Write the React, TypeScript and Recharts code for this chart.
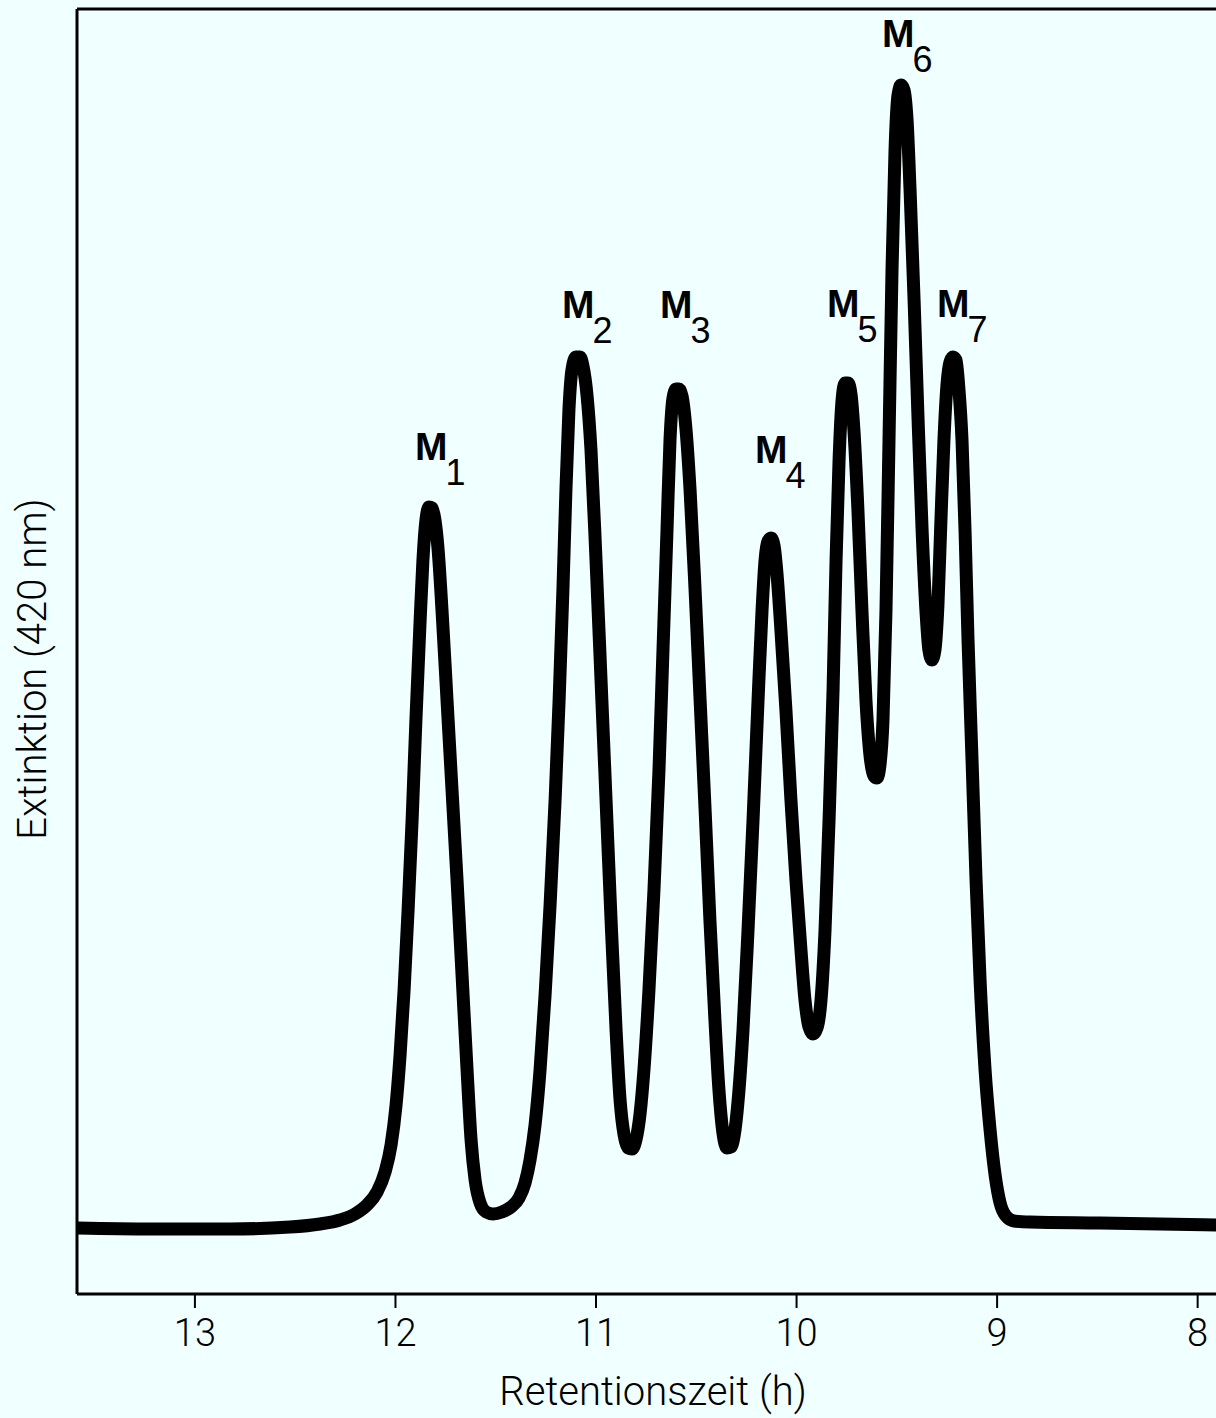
import React from 'react';
import { ComposedChart, Line, Scatter, XAxis, YAxis, ReferenceLine } from 'recharts';

// Retention time (h), read along the trace from left (13.6 h) to right (7.9 h)
const retentionTime = [
  13.588, 13.224, 12.825, 12.526, 12.376, 12.277, 12.202, 12.142, 12.092, 12.052,
  12.022, 11.997, 11.977, 11.957, 11.937, 11.917, 11.898, 11.878, 11.863, 11.848,
  11.833, 11.818, 11.803, 11.788, 11.768, 11.743, 11.718, 11.693, 11.668, 11.643,
  11.623, 11.603, 11.578, 11.548, 11.514, 11.469, 11.424, 11.384, 11.354, 11.329,
  11.304, 11.279, 11.254, 11.229, 11.204, 11.184, 11.165, 11.15, 11.135, 11.12,
  11.1, 11.08, 11.065, 11.045, 11.025, 11.0, 10.975, 10.95, 10.925, 10.9,
  10.88, 10.86, 10.84, 10.821, 10.801, 10.781, 10.761, 10.736, 10.711, 10.686,
  10.666, 10.646, 10.631, 10.616, 10.601, 10.586, 10.571, 10.551, 10.531, 10.506,
  10.481, 10.456, 10.432, 10.407, 10.387, 10.367, 10.347, 10.327, 10.307, 10.287,
  10.267, 10.242, 10.217, 10.192, 10.172, 10.157, 10.142, 10.127, 10.112, 10.097,
  10.078, 10.053, 10.028, 10.003, 9.978, 9.958, 9.938, 9.918, 9.898, 9.878,
  9.858, 9.838, 9.818, 9.803, 9.788, 9.773, 9.758, 9.743, 9.728, 9.714,
  9.694, 9.674, 9.654, 9.634, 9.614, 9.599, 9.584, 9.569, 9.554, 9.539,
  9.524, 9.509, 9.494, 9.479, 9.464, 9.449, 9.434, 9.414, 9.394, 9.374,
  9.355, 9.34, 9.325, 9.31, 9.295, 9.28, 9.265, 9.25, 9.235, 9.22,
  9.205, 9.19, 9.175, 9.16, 9.145, 9.125, 9.105, 9.085, 9.06, 9.035,
  9.01, 8.985, 8.956, 8.916, 8.836, 8.487, 7.908,
];

// Extinction at 420 nm (arbitrary units), same order as retentionTime
const extinction = [
  0.066, 0.065, 0.065, 0.067, 0.07, 0.074, 0.08, 0.089, 0.102, 0.122,
  0.149, 0.189, 0.239, 0.304, 0.384, 0.474, 0.574, 0.669, 0.734, 0.774,
  0.787, 0.786, 0.774, 0.746, 0.684, 0.594, 0.504, 0.414, 0.319, 0.224,
  0.154, 0.114, 0.091, 0.082, 0.08, 0.082, 0.087, 0.096, 0.111, 0.134,
  0.169, 0.224, 0.299, 0.389, 0.494, 0.594, 0.704, 0.804, 0.884, 0.924,
  0.937, 0.937, 0.928, 0.899, 0.844, 0.734, 0.614, 0.494, 0.374, 0.264,
  0.194, 0.159, 0.146, 0.145, 0.154, 0.179, 0.224, 0.304, 0.404, 0.524,
  0.644, 0.764, 0.854, 0.896, 0.905, 0.905, 0.898, 0.864, 0.804, 0.704,
  0.594, 0.484, 0.374, 0.274, 0.204, 0.161, 0.146, 0.147, 0.164, 0.204,
  0.264, 0.364, 0.474, 0.594, 0.684, 0.734, 0.753, 0.756, 0.748, 0.719,
  0.664, 0.584, 0.494, 0.414, 0.344, 0.294, 0.267, 0.26, 0.266, 0.294,
  0.364, 0.474, 0.604, 0.734, 0.834, 0.894, 0.911, 0.911, 0.899, 0.864,
  0.784, 0.684, 0.594, 0.539, 0.518, 0.516, 0.529, 0.574, 0.684, 0.854,
  1.024, 1.144, 1.199, 1.209, 1.204, 1.174, 1.104, 0.994, 0.874, 0.764,
  0.684, 0.644, 0.634, 0.644, 0.689, 0.774, 0.854, 0.909, 0.932, 0.937,
  0.934, 0.904, 0.854, 0.764, 0.654, 0.534, 0.414, 0.314, 0.224, 0.164,
  0.119, 0.091, 0.078, 0.073, 0.072, 0.071, 0.069,
];

const xTicks = [13, 12, 11, 10, 9, 8];
const xDomain = [7.9085, 13.588];
const yDomain = [0, 1.285];

// Peak annotations M1..M7 (label anchor in data coordinates)
const peakIndex = ['1', '2', '3', '4', '5', '6', '7'];
const peakLabelTime = [11.903, 11.17, 10.681, 10.207, 9.848, 9.574, 9.3];
const peakLabelExt = [0.834, 0.976, 0.976, 0.831, 0.977, 1.247, 0.977];

const curve = retentionTime.map((t, i) => ({ t, v: extinction[i] }));
const peaks = peakIndex.map((n, i) => ({ t: peakLabelTime[i], v: peakLabelExt[i], n }));

const BG = '#F0FFFF';
const LIGHT_FONT = "Roboto, 'Liberation Sans', sans-serif";
const LABEL_FONT = "'Liberation Sans', Arial, sans-serif";

const PeakLabel = (props: any) => {
  const { cx, cy, payload } = props;
  if (cx == null || cy == null) return null;
  return (
    <text x={cx} y={cy} fill="#000" fontFamily={LABEL_FONT}>
      <tspan fontWeight="bold" fontSize={39}>M</tspan>
      <tspan fontSize={36} dx={-2} dy={25}>{payload.n}</tspan>
    </text>
  );
};

const XTitle = () => (
  <text
    x={653}
    y={1405}
    textAnchor="middle"
    fill="#000"
    fontFamily={LIGHT_FONT}
    fontWeight={300}
    fontSize={40}
  >
    Retentionszeit (h)
  </text>
);

const YTitle = () => (
  <text
    x={46}
    y={669}
    textAnchor="middle"
    fill="#000"
    fontFamily={LIGHT_FONT}
    fontWeight={300}
    fontSize={40}
    transform="rotate(-90, 46, 669)"
  >
    Extinktion (420 nm)
  </text>
);

export default function App() {
  return (
    <div
      style={{
        position: 'absolute',
        left: 0,
        top: 0,
        width: 1216,
        height: 1418,
        background: BG,
      }}
    >
      <ComposedChart
        width={1216}
        height={1418}
        margin={{ top: 9, right: 0, bottom: 64, left: 0 }}
      >
        <XAxis
          dataKey="t"
          type="number"
          domain={xDomain}
          reversed
          allowDataOverflow
          ticks={xTicks}
          height={60}
          axisLine={{ stroke: '#000', strokeWidth: 3 }}
          tickLine={{ stroke: '#000', strokeWidth: 2 }}
          tickSize={14}
          tickMargin={11}
          tick={{ fill: '#000', fontSize: 38, fontFamily: LIGHT_FONT, fontWeight: 300 }}
          label={<XTitle />}
        />
        <YAxis
          dataKey="v"
          type="number"
          domain={yDomain}
          allowDataOverflow
          width={77}
          tick={false}
          tickLine={false}
          axisLine={{ stroke: '#000', strokeWidth: 3 }}
          label={<YTitle />}
        />
        <ReferenceLine y={1.285} stroke="#000" strokeWidth={3} />
        <Line
          data={curve}
          dataKey="v"
          type="monotone"
          stroke="#000"
          strokeWidth={13}
          strokeLinejoin="round"
          strokeLinecap="round"
          dot={false}
          activeDot={false}
          isAnimationActive={false}
        />
        <Scatter
          data={peaks}
          dataKey="v"
          shape={<PeakLabel />}
          isAnimationActive={false}
        />
      </ComposedChart>
    </div>
  );
}
